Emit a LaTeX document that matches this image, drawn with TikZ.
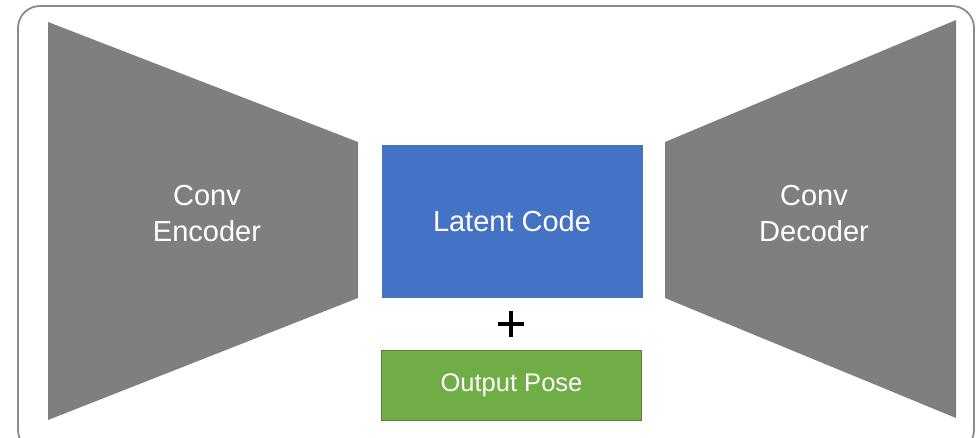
\documentclass[tikz,border=0pt]{standalone}
\usepackage{fontspec}
\setmainfont{Liberation Sans}
\begin{document}
\begin{tikzpicture}[x=1pt,y=-1pt,
  label/.style={text=white, font=\fontsize{29}{36}\selectfont, align=center, inner sep=0pt},
  codebox/.style={fill=latent, draw=latent, minimum width=260pt, minimum height=152pt, inner sep=0pt, text=white, font=\fontsize{29}{36}\selectfont},
  posebox/.style={fill=pose, draw=poseedge, line width=1.2pt, minimum width=260pt, minimum height=70pt, inner sep=0pt, text=white, font=\fontsize{25.5}{30}\selectfont},
  plusbar/.style={line width=4.2pt, black}]
\definecolor{trap}{HTML}{7F7F7F}
\definecolor{latent}{HTML}{4472C4}
\definecolor{pose}{HTML}{70AD47}
\definecolor{poseedge}{HTML}{548235}
\definecolor{frame}{HTML}{8A8A8A}
\useasboundingbox (0,0) rectangle (976,437);
% outer frame
\draw[frame, line width=1.8pt, rounded corners=22pt] (18,6) rectangle (974,452);
% encoder and decoder funnels
\fill[trap] (48,22) -- (358,142) -- (358,298) -- (48,420) -- cycle;
\fill[trap] (956,20) -- (665,142) -- (665,298) -- (956,418) -- cycle;
\node[label] (enc) at (207,214) {Conv\\Encoder};
\node[label] (dec) at (814,214) {Conv\\Decoder};
% latent code and pose
\node[codebox] (code) at (512,221) {Latent Code};
\node[posebox] (pose) at (511.5,385.5) {Output Pose};
% the plus sign between them
\coordinate (plus) at (511,324);
\draw[plusbar] ([xshift=-13pt]plus) -- ([xshift=13pt]plus);
\draw[plusbar] ([yshift=-13pt]plus) -- ([yshift=13pt]plus);
\end{tikzpicture}
\end{document}
